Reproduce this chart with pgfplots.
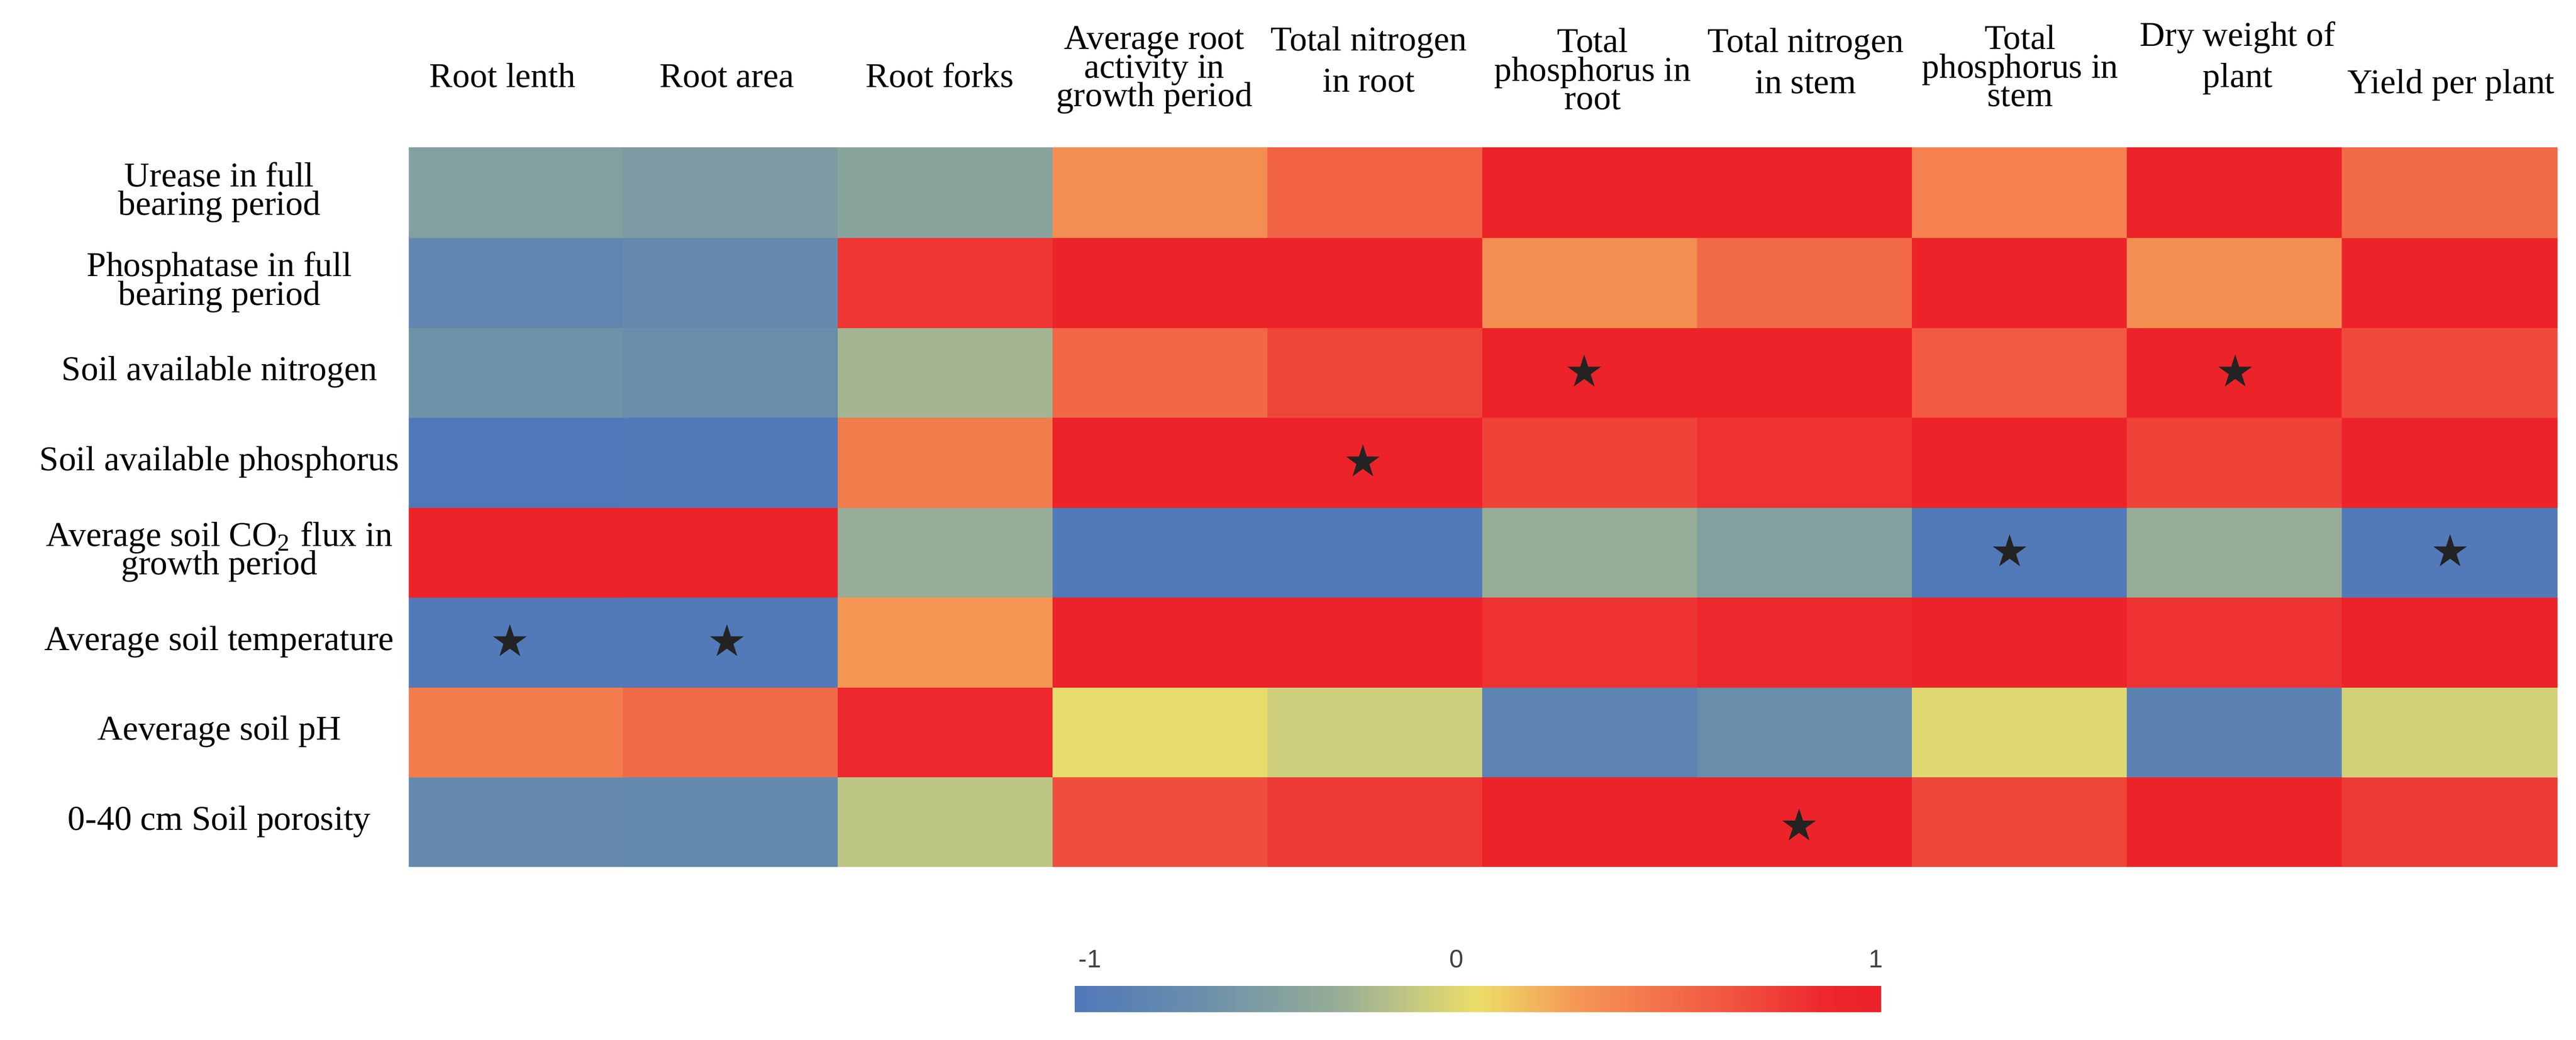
\documentclass[border=0pt]{standalone}
\usepackage{fontspec}
\setmainfont{Liberation Serif}
\newfontfamily\barfont{Liberation Sans}
\usepackage{pgfplots}
\pgfplotsset{compat=1.18}

\definecolor{starc}{RGB}{35,35,35}

% filled five-pointed star
\pgfdeclareplotmark{fstar}{%
  \pgfpathmoveto{\pgfpointpolar{90}{\pgfplotmarksize}}%
  \pgfpathlineto{\pgfpointpolar{126}{0.382\pgfplotmarksize}}%
  \pgfpathlineto{\pgfpointpolar{162}{\pgfplotmarksize}}%
  \pgfpathlineto{\pgfpointpolar{198}{0.382\pgfplotmarksize}}%
  \pgfpathlineto{\pgfpointpolar{234}{\pgfplotmarksize}}%
  \pgfpathlineto{\pgfpointpolar{270}{0.382\pgfplotmarksize}}%
  \pgfpathlineto{\pgfpointpolar{306}{\pgfplotmarksize}}%
  \pgfpathlineto{\pgfpointpolar{342}{0.382\pgfplotmarksize}}%
  \pgfpathlineto{\pgfpointpolar{18}{\pgfplotmarksize}}%
  \pgfpathlineto{\pgfpointpolar{54}{0.382\pgfplotmarksize}}%
  \pgfpathclose
  \pgfusepathqfill
}

\newcommand\labfont{\fontsize{7.7}{6.3}\selectfont\lineskiplimit=-10pt}

\begin{document}
\begin{tikzpicture}
\useasboundingbox (0,0) rectangle (569.5pt,-229.9pt);

% rows are numbered from the bottom: y=7 is the top row
\begin{axis}[
    at={(90.4pt,-191.6pt)}, anchor=south west,
    scale only axis, width=475pt, height=159pt,
    xmin=-0.5, xmax=9.5, ymin=-0.5, ymax=7.5,
    axis line style={draw=none},
    tick style={draw=none},
    xtick=\empty,
    ytick={0,...,7},
    yticklabels={
        {0-40 cm Soil porosity},
        {Aeverage soil pH},
        {Average soil temperature},
        {Average soil CO\textsubscript{2} flux in\\growth period},
        {Soil available phosphorus},
        {Soil available nitrogen},
        {Phosphatase in full\\bearing period},
        {Urease in full\\bearing period}},
    yticklabel style={anchor=center, align=center, xshift=-41.9pt, font=\labfont},
    colormap={heat}{
        rgb255(0cm)=(80,120,185)
        rgb255(3cm)=(105,142,172)
        rgb255(5cm)=(130,160,160)
        rgb255(6.5cm)=(150,172,150)
        rgb255(8cm)=(185,195,135)
        rgb255(10cm)=(236,222,104)
        rgb255(12.5cm)=(245,150,85)
        rgb255(14.5cm)=(243,115,75)
        rgb255(16.5cm)=(240,80,62)
        rgb255(18.5cm)=(237,40,45)
        rgb255(20cm)=(237,32,40)},
    point meta min=-1, point meta max=1,
    colorbar horizontal,
    colorbar style={
        at={(0.30968,-0.16667)},
        anchor=north west,
        scale only axis, width=178.4pt, height=5.7pt,
        axis line style={draw=none},
        tick style={draw=none},
        xtick={-0.961,-0.052,0.987},
        xticklabels={-1,0,1},
        xticklabel pos=upper,
        xticklabel style={anchor=center, yshift=6.1pt,
            font=\barfont\fontsize{5.6}{6}\selectfont, text=black!75},
    },
]

\addplot[matrix plot*, mesh/cols=10, point meta=explicit] table[meta=v] {
x y v
0 0 -0.75
1 0 -0.77
2 0 -0.18
3 0 0.66
4 0 0.76
5 0 0.95
6 0 0.95
7 0 0.70
8 0 0.95
9 0 0.76
0 1 0.40
1 1 0.50
2 1 0.85
3 1 -0.02
4 1 -0.12
5 1 -0.85
6 1 -0.70
7 1 -0.05
8 1 -0.87
9 1 -0.10
0 2 -0.98
1 2 -0.98
2 2 0.25
3 2 0.95
4 2 0.95
5 2 0.80
6 2 0.85
7 2 0.95
8 2 0.80
9 2 0.95
0 3 0.95
1 3 0.95
2 3 -0.35
3 3 -0.98
4 3 -0.98
5 3 -0.35
6 3 -0.50
7 3 -0.98
8 3 -0.35
9 3 -0.98
0 4 -1.00
1 4 -0.98
2 4 0.40
3 4 0.95
4 4 0.95
5 4 0.72
6 4 0.80
7 4 0.95
8 4 0.72
9 4 0.95
0 5 -0.65
1 5 -0.70
2 5 -0.30
3 5 0.52
4 5 0.70
5 5 0.95
6 5 0.95
7 5 0.60
8 5 0.95
9 5 0.68
0 6 -0.80
1 6 -0.75
2 6 0.78
3 6 0.95
4 6 0.95
5 6 0.30
6 6 0.50
7 6 0.95
8 6 0.30
9 6 0.95
0 7 -0.50
1 7 -0.55
2 7 -0.45
3 7 0.30
4 7 0.55
5 7 0.95
6 7 0.95
7 7 0.37
8 7 0.95
9 7 0.50
};

% significance stars
\addplot[only marks, mark=fstar, mark size=3.9pt, color=starc]
    coordinates {(4.97,5) (8.0,5) (3.94,4) (6.95,3) (9.0,3) (-0.03,2) (0.98,2) (5.97,-0.05)};

\end{axis}

% column labels; anchor=base is the baseline of the last line
\tikzset{toplab/.style={font=\labfont, align=center, inner sep=0pt, anchor=base}}
\node[toplab] at (111.1pt,-19.3pt) {Root lenth};
\node[toplab] at (160.7pt,-19.3pt) {Root area};
\node[toplab] at (207.8pt,-19.3pt) {Root forks};
\node[toplab] at (255.2pt,-23.5pt) {Average root\\activity in\\growth period};
\node[toplab] at (302.6pt,-20.3pt) {Total nitrogen\\[2.8pt]in root};
\node[toplab] at (352.1pt,-24.2pt) {Total\\phosphorus in\\root};
\node[toplab] at (399.2pt,-20.7pt) {Total nitrogen\\[2.8pt]in stem};
\node[toplab] at (446.6pt,-23.5pt) {Total\\phosphorus in\\stem};
\node[toplab] at (494.7pt,-19.3pt) {Dry weight of\\[2.8pt]plant};
\node[toplab] at (541.9pt,-20.7pt) {Yield per plant};
\end{tikzpicture}
\end{document}
